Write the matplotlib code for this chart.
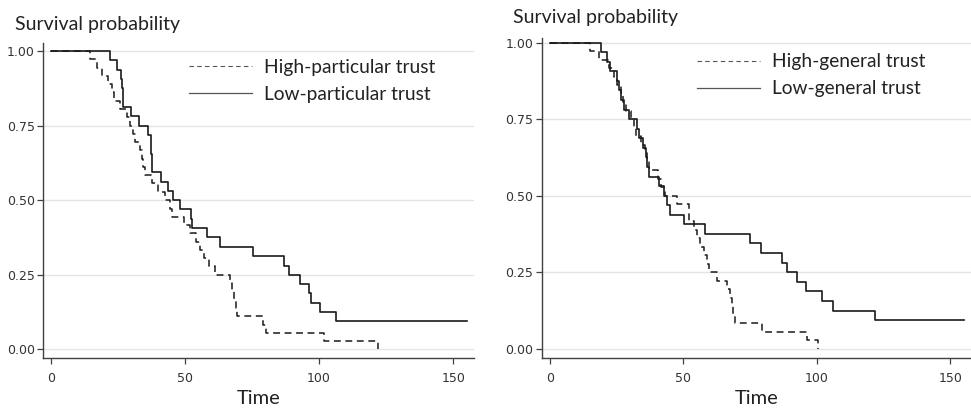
import matplotlib
matplotlib.use("Agg")
import matplotlib.pyplot as plt
from matplotlib.lines import Line2D

# left panel: particular trust
t_high_part = [0, 14.6, 17, 18.9, 21.4, 22.6, 23.3, 25.7, 28.2, 29.5, 30.7, 31.2,
               33.2, 33.8, 34.4, 35.2, 37.6, 40, 42.5, 44.4, 45.2, 49.6, 52, 54,
               55.6, 57.2, 59, 61.2, 66.8, 67.6, 68.3, 68.9, 69.5, 79.2, 80.2, 102, 122]
s_high_part = [1.0, 0.972, 0.944, 0.917, 0.889, 0.861, 0.833, 0.806, 0.778, 0.75, 0.722, 0.694,
               0.667, 0.639, 0.611, 0.583, 0.556, 0.528, 0.5, 0.472, 0.444, 0.417, 0.389, 0.361,
               0.333, 0.306, 0.278, 0.25, 0.222, 0.194, 0.167, 0.139, 0.111, 0.083, 0.056, 0.028, 0.0]

t_low_part = [0, 22, 24.7, 26, 26.4, 26.7, 27, 30, 32.7, 36, 37.2, 37.4, 37.6, 37.8,
              41, 43.8, 45.6, 48, 52.2, 52.5, 58, 63, 75.3, 87, 88.9, 93, 96.4, 97,
              100.4, 106.3, 155]
s_low_part = [1.0, 0.969, 0.9375, 0.906, 0.875, 0.844, 0.8125, 0.781, 0.75, 0.719, 0.6875, 0.656, 0.625, 0.594,
              0.5625, 0.531, 0.5, 0.469, 0.4375, 0.406, 0.375, 0.344, 0.3125, 0.281, 0.25, 0.219, 0.1875, 0.156,
              0.125, 0.094, 0.094]

# right panel: general trust
t_high_gen = [0, 15, 18.5, 22, 24, 25, 26.5, 27.5, 28.5, 30.5, 31.4, 32.3, 34, 35.5,
              36.4, 37.2, 40.6, 41.5, 43.3, 47.6, 52, 52.3, 53.9, 55, 56.4, 57.8, 59,
              59.5, 62.6, 66.3, 67.5, 68.3, 68.8, 69.4, 79.4, 96.5, 100.5]
s_high_gen = [1.0, 0.972, 0.944, 0.917, 0.889, 0.861, 0.833, 0.806, 0.778, 0.75, 0.722, 0.694, 0.667, 0.639,
              0.611, 0.583, 0.556, 0.528, 0.5, 0.472, 0.444, 0.417, 0.389, 0.361, 0.333, 0.306, 0.278,
              0.25, 0.222, 0.194, 0.167, 0.139, 0.111, 0.083, 0.056, 0.028, 0.0]

t_low_gen = [0, 19, 21.5, 22.5, 25.2, 25.8, 26.5, 27.7, 29.5, 32.7, 33.3, 35, 36, 36.5,
             37, 40.8, 42.6, 43.9, 45.1, 50.1, 58.2, 75, 79, 86.9, 88.8, 92.5, 95.9,
             101.9, 106, 121.8, 155]
s_low_gen = [1.0, 0.969, 0.9375, 0.906, 0.875, 0.844, 0.8125, 0.781, 0.75, 0.719, 0.6875, 0.656, 0.625, 0.594,
             0.5625, 0.531, 0.5, 0.469, 0.4375, 0.406, 0.375, 0.344, 0.3125, 0.281, 0.25, 0.219, 0.1875,
             0.156, 0.125, 0.094, 0.094]

labels_part = ["High-particular trust", "Low-particular trust"]
labels_gen = ["High-general trust", "Low-general trust"]
yticks = [0.0, 0.25, 0.5, 0.75, 1.0]
xticks = [0, 50, 100, 150]

txt_font = "Lato"
tick_font = "Liberation Sans Narrow"

fig = plt.figure(figsize=(9.71, 4.08), dpi=100)
ax1 = fig.add_axes([0.0443, 0.1225, 0.4439, 0.773])
ax2 = fig.add_axes([0.558, 0.1233, 0.442, 0.783])


def style_axes(ax, ytop):
    ax.set_xlim(-3.0, 157.8)
    ax.set_ylim(-0.029, ytop)
    for s in ["top", "right"]:
        ax.spines[s].set_visible(False)
    for s in ["left", "bottom"]:
        ax.spines[s].set_color("#404040")
        ax.spines[s].set_linewidth(1.0)
    ax.set_yticks(yticks)
    ax.set_yticklabels(["%.2f" % v for v in yticks])
    ax.set_xticks(xticks)
    ax.tick_params(axis="both", length=4, width=0.9, color="#404040",
                   labelsize=9, labelcolor="#333333")
    ax.tick_params(axis="x", pad=6)
    ax.tick_params(axis="y", pad=2)
    for lab in ax.get_xticklabels() + ax.get_yticklabels():
        lab.set_fontfamily([tick_font, "DejaVu Sans"])
    ax.grid(axis="y", color="#e4e4e4", linewidth=1.0)
    ax.set_axisbelow(True)
    ax.set_xlabel("Time", fontsize=14.5, family=txt_font, color="#222222", labelpad=4)


def draw(ax, th, sh, tl, sl, labels, ytop, anchor):
    style_axes(ax, ytop)
    ax.step(th, sh, where="post", color="#1a1a1a", lw=1.1, linestyle=(0, (4.5, 3)))
    ax.step(tl, sl, where="post", color="#1a1a1a", lw=1.2)
    handles = [Line2D([], [], color="#555555", lw=0.8, linestyle=(0, (4, 3))),
               Line2D([], [], color="#555555", lw=0.9)]
    leg = ax.legend(handles, labels, loc="upper left", bbox_to_anchor=anchor,
                    frameon=False, handlelength=3.3, handletextpad=0.62,
                    labelspacing=0.52, borderaxespad=0.3,
                    prop={"family": txt_font, "size": 13.8})
    for t in leg.get_texts():
        t.set_color("#222222")
    return leg


draw(ax1, t_high_part, s_high_part, t_low_part, s_low_part, labels_part, 1.028, (0.308, 0.99))
draw(ax2, t_high_gen, s_high_gen, t_low_gen, s_low_gen, labels_gen, 1.014, (0.33, 0.995))

fig.text(0.015, 0.94, "Survival probability", fontsize=14, family=txt_font,
         color="#222222", va="center", ha="left")
fig.text(0.528, 0.957, "Survival probability", fontsize=14, family=txt_font,
         color="#222222", va="center", ha="left")

fig.savefig("out.png", dpi=100)
